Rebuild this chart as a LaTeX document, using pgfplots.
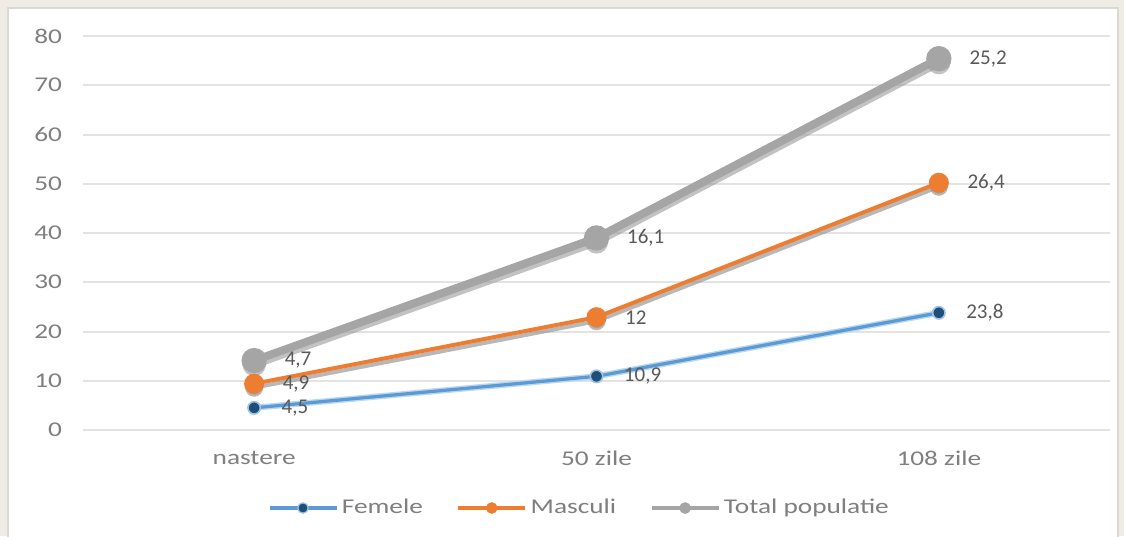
\documentclass[border=0pt]{standalone}
\usepackage{fontspec}
\setmainfont{Carlito}
\usepackage{pgfplots}
\usepackage{pgfplotstable}
\pgfplotsset{compat=1.18}

\definecolor{bgbeige}{HTML}{EFECE5}
\definecolor{framegray}{HTML}{DCD9D2}
\definecolor{gridgray}{HTML}{E3E3E3}
\definecolor{txtgray}{HTML}{7F7F7F}
\definecolor{lblgray}{HTML}{595959}
\definecolor{femblue}{HTML}{5B9BD5}
\definecolor{femdark}{HTML}{1F4E79}
\definecolor{masorange}{HTML}{ED7D31}
\definecolor{totgray}{HTML}{A5A5A5}
\definecolor{shadowgray}{HTML}{9A9A9A}

% stacked line chart: y is cumulative, label is the series' own value
\pgfplotstableread{
x y label
0 4.5 4,5
1 10.9 10,9
2 23.8 23,8
}\femele
\pgfplotstableread{
x y label
0 9.4 4,9
1 22.9 12
2 50.2 26,4
}\masculi
\pgfplotstableread{
x y label
0 14.1 4,7
1 39.0 16,1
2 75.4 25,2
}\total

% the reference text is stretched sideways
\newcommand{\wide}[1]{\scalebox{1.3}[1]{#1}}

\begin{document}
\begin{tikzpicture}
\useasboundingbox (0,0) rectangle (562pt,268pt);
\fill[bgbeige] (0,0) rectangle (562pt,268pt);
\filldraw[fill=white, draw=framegray, line width=1pt] (4pt,-2pt) rectangle (559pt,264pt);
\begin{axis}[
  at={(41.5pt,53pt)}, anchor=south west,
  scale only axis, width=513.5pt, height=197pt,
  xmin=-0.5, xmax=2.5, ymin=0, ymax=80,
  xtick={0,1,2}, xticklabels={\wide{nastere},\wide{50 zile},\wide{108 zile}},
  ytick={0,10,...,80},
  yticklabel={\wide{\pgfmathprintnumber[assume math mode=true]{\tick}}},
  axis line style={draw=none},
  major tick length=0pt,
  ymajorgrids, grid style={gridgray, line width=1pt},
  yticklabel style={font=\fontsize{10.5}{13}\selectfont, text=txtgray, xshift=-7pt},
  xticklabel style={font=\fontsize{10.5}{13}\selectfont, text=txtgray, yshift=-7pt},
  legend columns=3,
  legend style={draw=none, at={(0.5,0)}, anchor=center, yshift=-39pt, xshift=-8.5pt,
    font=\fontsize{10.5}{13}\selectfont, text=txtgray,
    nodes={inner xsep=1.5pt},
    /tikz/every even column/.append style={column sep=15pt}},
  legend image code/.code={%
    \draw[#1, line width=2.4pt, mark size=2.6pt, mark repeat=2, mark phase=2,
      every mark/.append style={line width=0.6pt}]
      plot coordinates {(0pt,0pt) (16.75pt,0pt) (33.5pt,0pt)};},
  point meta=explicit symbolic,
  nodes near coords={\wide{\pgfplotspointmeta}},
  every node near coord/.append style={anchor=west, xshift=10pt, text=lblgray,
    font=\fontsize{10.5}{13}\selectfont},
]
% shadows
\addplot[shadowgray, opacity=0.6, line width=4pt, yshift=-2pt, mark=*, mark size=3.8pt,
  forget plot] table[x=x, y=y] {\total};
\addplot[shadowgray, opacity=0.7, line width=2pt, yshift=-2pt, mark=*, mark size=3.5pt,
  forget plot] table[x=x, y=y] {\masculi};
\addplot[femblue!40, line width=3pt, forget plot] table[x=x, y=y] {\femele};
% series
\addplot[femblue, line width=1.6pt, mark=*, mark size=3.1pt,
  mark options={fill=femdark, draw=femblue!60, line width=0.8pt}, nodes near coords]
  table[x=x, y=y, meta=label] {\femele};
\addlegendentry{\wide{Femele}}
\addplot[masorange, line width=2pt, mark=*, mark size=4pt,
  mark options={fill=masorange, draw=masorange}, nodes near coords]
  table[x=x, y=y, meta=label] {\masculi};
\addlegendentry{\wide{Masculi}}
\addplot[totgray, line width=4pt, mark=*, mark size=4.3pt,
  mark options={fill=totgray, draw=totgray}, nodes near coords]
  table[x=x, y=y, meta=label] {\total};
\addlegendentry{\wide{Total populatie}}
\end{axis}
\end{tikzpicture}
\end{document}
